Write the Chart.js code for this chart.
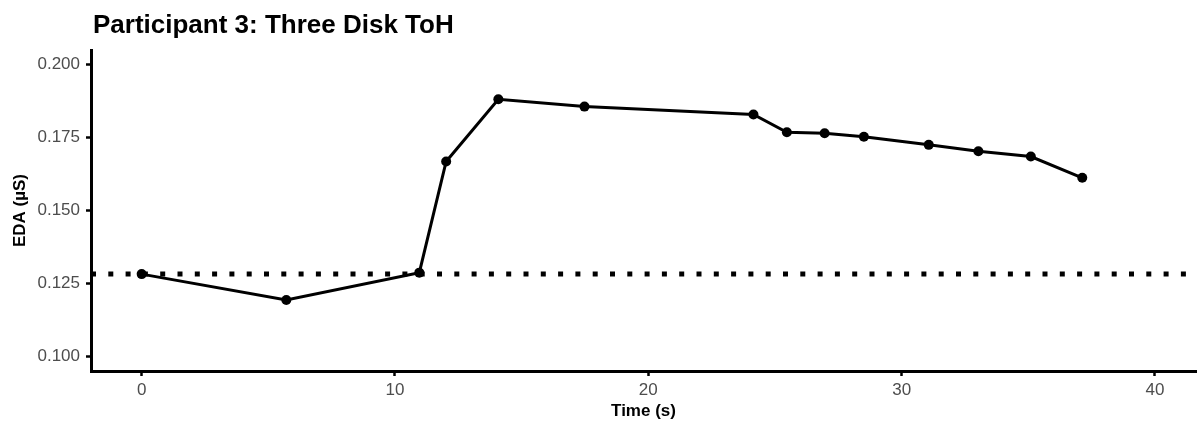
<!DOCTYPE html>
<html>
<head>
<meta charset="utf-8">
<script src="https://cdn.jsdelivr.net/npm/chart.js@4"></script>
<style>
  body { margin: 0; background: #fff; }
  canvas { display: block; }
</style>
</head>
<body>
<canvas id="edaChart" width="1201" height="421"></canvas>
<script>
const timeS = [0, 5.71, 10.96, 12.02, 14.08, 17.48, 24.15, 25.47, 26.96, 28.51, 31.07, 33.03, 35.1, 37.13];
const eda = [0.1282, 0.1193, 0.1287, 0.1668, 0.1881, 0.1856, 0.1829, 0.1768, 0.1765, 0.1753, 0.1725, 0.1703, 0.1685, 0.1612];
const baseline = 0.1282;
const xTicks = [0, 10, 20, 30, 40];
const yTicks = [0.100, 0.125, 0.150, 0.175, 0.200];
const chartTitle = 'Participant 3: Three Disk ToH';

const FONT = '"Liberation Sans", Arial, sans-serif';

const titlePlugin = {
    id: 'plotTitle',
    afterDraw(chart) {
        const ctx = chart.ctx;
        ctx.save();
        ctx.font = 'bold 26px ' + FONT;
        ctx.fillStyle = '#000';
        ctx.textBaseline = 'alphabetic';
        ctx.fillText(chartTitle, 93, 33);
        ctx.restore();
    }
};

function points() {
    return timeS.map((t, i) => ({x: t, y: eda[i]}));
}

const ctx = document.getElementById('edaChart').getContext('2d');
const edaChart = new Chart(ctx, {
    type: 'scatter',
    data: {
        datasets: [{
            data: points(),
            showLine: true,
            borderColor: '#000',
            backgroundColor: '#000',
            borderWidth: 3,
            pointRadius: 5,
            pointBorderWidth: 0,
            order: 1
        }, {
            data: [{x: -2, y: baseline}, {x: 42, y: baseline}],
            showLine: true,
            borderColor: '#000',
            borderWidth: 5,
            borderDash: [5, 12.3],
            borderCapStyle: 'butt',
            pointRadius: 0,
            order: 2
        }]
    },
    options: {
        responsive: false,
        animation: false,
        devicePixelRatio: 1,
        layout: { padding: { top: 50, left: 0, right: 0, bottom: 0 } },
        plugins: {
            legend: { display: false },
            tooltip: { enabled: false }
        },
        scales: {
            x: {
                type: 'linear',
                min: -2,
                max: 41.62,
                afterBuildTicks: s => { s.ticks = xTicks.map(v => ({value: v})); },
                afterFit: s => { s.height = 50; },
                border: { color: '#000', width: 3 },
                grid: { drawOnChartArea: false, tickLength: 5, tickWidth: 2.5, tickColor: '#000' },
                ticks: { color: '#4D4D4D', font: { family: FONT, size: 17 }, padding: 4, maxRotation: 0 },
                title: { display: true, text: 'Time (s)', color: '#000', font: { family: FONT, size: 17, weight: 'bold' }, padding: { top: 0, bottom: -1 } }
            },
            y: {
                min: 0.095,
                max: 0.205,
                afterBuildTicks: s => { s.ticks = yTicks.map(v => ({value: v})); },
                afterFit: s => { s.width = 91; },
                border: { color: '#000', width: 3 },
                grid: { drawOnChartArea: false, tickLength: 5, tickWidth: 2.5, tickColor: '#000' },
                ticks: { color: '#4D4D4D', font: { family: FONT, size: 17 }, padding: 6, callback: v => v.toFixed(3) },
                title: { display: true, text: 'EDA (µS)', color: '#000', font: { family: FONT, size: 17, weight: 'bold' }, padding: { top: 10, bottom: 0 } }
            }
        }
    },
    plugins: [titlePlugin]
});
</script>
</body>
</html>
